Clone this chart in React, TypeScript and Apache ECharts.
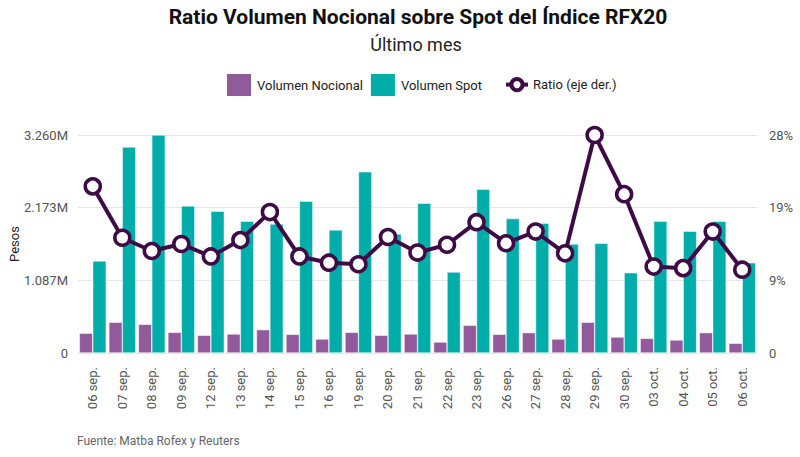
import React, { useEffect, useRef } from "react";
import * as echarts from "echarts";

const categories = [
  "06 sep.", "07 sep.", "08 sep.", "09 sep.", "12 sep.", "13 sep.", "14 sep.", "15 sep.",
  "16 sep.", "19 sep.", "20 sep.", "21 sep.", "22 sep.", "23 sep.", "26 sep.", "27 sep.",
  "28 sep.", "29 sep.", "30 sep.", "03 oct.", "04 oct.", "05 oct.", "06 oct.",
];

const volumenNocional = [
  295000, 459000, 429000, 309000, 265000, 284000, 349000, 279000,
  209000, 309000, 265000, 284000, 164000, 414000, 279000, 304000,
  209000, 459000, 239000, 219000, 194000, 304000, 145000,
];

const volumenSpot = [
  1376000, 3080000, 3260000, 2200000, 2120000, 1970000, 1930000, 2270000,
  1840000, 2710000, 1780000, 2240000, 1210000, 2450000, 2010000, 1940000,
  1630000, 1640000, 1200000, 1970000, 1820000, 1970000, 1350000,
];

const ratio = [
  0.214, 0.148, 0.131, 0.14, 0.124, 0.145, 0.181, 0.124,
  0.116, 0.114, 0.149, 0.129, 0.139, 0.168, 0.141, 0.156,
  0.128, 0.28, 0.204, 0.111, 0.109, 0.156, 0.107,
];

const leftMax = 3260000;
const rightMax = 0.28;

const FONT = "Roboto, 'Noto Sans', sans-serif";
const PURPLE = "#925a9c";
const TEAL = "#00ada8";
const DARK = "#3e0b47";

export default function App() {
  const ref = useRef<HTMLDivElement>(null);

  useEffect(() => {
    if (!ref.current) return;
    const chart = echarts.init(ref.current, undefined, { renderer: "svg" });
    chart.setOption({
      animation: false,
      backgroundColor: "#ffffff",
      textStyle: { fontFamily: FONT },
      title: [
        {
          text: "Ratio Volumen Nocional sobre Spot del Índice RFX20",
          left: 418,
          top: 6,
          padding: 0,
          textAlign: "center",
          textStyle: { fontFamily: FONT, fontSize: 21, fontWeight: "bold", color: "#111111" },
        },
        {
          text: "Último mes",
          left: 416,
          top: 35,
          padding: 0,
          textAlign: "center",
          textStyle: { fontFamily: FONT, fontSize: 18, fontWeight: "normal", color: "#222222" },
        },
        {
          text: "Fuente: Matba Rofex y Reuters",
          left: 77,
          top: 435,
          padding: 0,
          textStyle: { fontFamily: FONT, fontSize: 12, fontWeight: "normal", color: "#666666" },
        },
      ],
      graphic: [
        {
          type: "text",
          x: 14,
          y: 244,
          rotation: Math.PI / 2,
          style: {
            text: "Pesos",
            fontFamily: FONT,
            fontSize: 13,
            fill: "#222222",
            align: "center",
            verticalAlign: "middle",
          },
        },
      ],
      legend: [
        {
          left: 225,
          top: 72,
          padding: 0,
          itemWidth: 26,
          itemHeight: 24,
          itemGap: 6,
          icon: "rect",
          data: ["Volumen Nocional", "Volumen Spot"],
          textStyle: { fontFamily: FONT, fontSize: 13, color: "#222222" },
        },
        {
          left: 504,
          top: 77,
          padding: 0,
          itemWidth: 22,
          itemHeight: 14,
          data: ["Ratio (eje der.)"],
          itemStyle: { color: "#ffffff", borderColor: DARK, borderWidth: 4 },
          lineStyle: { color: DARK, width: 4 },
          textStyle: { fontFamily: FONT, fontSize: 13, color: "#222222" },
        },
      ],
      grid: { left: 78, right: 43, top: 135, bottom: 104, outerBoundsMode: "none", containLabel: false },
      xAxis: {
        type: "category",
        data: categories,
        axisLine: { show: false },
        axisTick: { show: false },
        axisLabel: {
          rotate: 90,
          interval: 0,
          margin: 14,
          fontFamily: FONT,
          fontSize: 13,
          color: "#555555",
        },
      },
      yAxis: [
        {
          type: "value",
          min: 0,
          max: leftMax,
          interval: leftMax / 3,
          axisLine: { show: false },
          axisTick: { show: false },
          splitLine: { lineStyle: { color: "#e6e6e6", width: 1 } },
          axisLabel: {
            margin: 10,
            fontFamily: FONT,
            fontSize: 13,
            color: "#555555",
            formatter: (v: number) => (v === 0 ? "0" : (v / 1e6).toFixed(3) + "M"),
          },
        },
        {
          type: "value",
          min: 0,
          max: rightMax,
          interval: rightMax / 3,
          position: "right",
          axisLine: { show: false },
          axisTick: { show: false },
          splitLine: { show: false },
          axisLabel: {
            margin: 12,
            fontFamily: FONT,
            fontSize: 13,
            color: "#555555",
            formatter: (v: number) => (v === 0 ? "0" : Math.round(v * 100) + "%"),
          },
        },
      ],
      series: [
        {
          name: "Volumen Nocional",
          type: "bar",
          data: volumenNocional,
          barGap: "0%",
          barCategoryGap: "9%",
          itemStyle: { color: PURPLE, borderColor: "#ffffff", borderWidth: 0.5 },
        },
        {
          name: "Volumen Spot",
          type: "bar",
          data: volumenSpot,
          barGap: "0%",
          barCategoryGap: "9%",
          itemStyle: { color: TEAL, borderColor: "#ffffff", borderWidth: 0.5 },
        },
        {
          name: "Ratio (eje der.)",
          type: "line",
          yAxisIndex: 1,
          data: ratio,
          symbol: "circle",
          symbolSize: 15,
          lineStyle: { color: DARK, width: 4 },
          itemStyle: { color: "#ffffff", borderColor: DARK, borderWidth: 3.5 },
          z: 5,
        },
      ],
    });
    return () => chart.dispose();
  }, []);

  return (
    <div
      ref={ref}
      style={{ position: "fixed", left: 0, top: 0, width: 800, height: 457 }}
    />
  );
}
